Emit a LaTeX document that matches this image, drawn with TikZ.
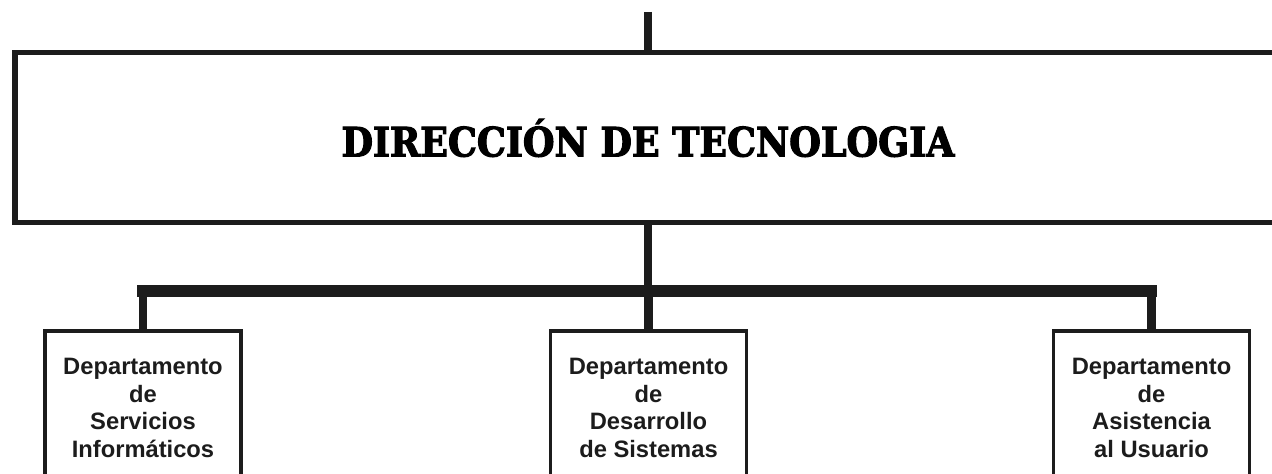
\documentclass[tikz,border=0pt]{standalone}
\usepackage{fontspec}
\newfontfamily\deptfont{Liberation Sans}
\newfontfamily\dirfont{DejaVu Serif Condensed Bold}[FakeBold=2.6]
\definecolor{inkgray}{HTML}{1C1C1C}
\begin{document}
\begin{tikzpicture}[
    dirbox/.style={draw=inkgray, line width=2.85pt, minimum width=25.32cm, minimum height=3.4cm,
      font=\dirfont\fontsize{23}{26}\selectfont, text=black},
    deptbox/.style={draw=inkgray, line width=2pt, minimum width=3.92cm, minimum height=3.08cm,
      align=center, font=\deptfont\bfseries\fontsize{13.5}{15.8}\selectfont, text=inkgray},
    trunk/.style={draw=inkgray, line width=4.6pt},
    busline/.style={draw=inkgray, line width=6.5pt, line cap=rect}
  ]
      \useasboundingbox (0,0) rectangle (25.44,9.48);
      \clip (0,0) rectangle (25.44,9.48);
      % direccion
      \coordinate (topend) at (12.96,9.24);
      \node[dirbox] (dir) at (12.96,6.72) {DIRECCIÓN DE TECNOLOGIA};
      \draw[trunk] (topend) -- (dir.north);
      % departamentos
      \node[deptbox] (servicios) at (2.86,1.32) {Departamento\\de\\Servicios\\Informáticos};
      \node[deptbox] (desarrollo) at (12.97,1.32) {Departamento\\de\\Desarrollo\\de Sistemas};
      \node[deptbox] (asistencia) at (23.03,1.32) {Departamento\\de\\Asistencia\\al Usuario};
      % lineas
      \coordinate (bus) at (12.96,3.66);
      \draw[trunk] (dir.south) -- (dir.south |- bus);
      \draw[busline] (servicios.north |- bus) -- (asistencia.north |- bus);
      \draw[trunk] (servicios.north |- bus) -- (servicios.north);
      \draw[trunk] (desarrollo.north |- bus) -- (desarrollo.north);
      \draw[trunk] (asistencia.north |- bus) -- (asistencia.north);
\end{tikzpicture}
\end{document}
